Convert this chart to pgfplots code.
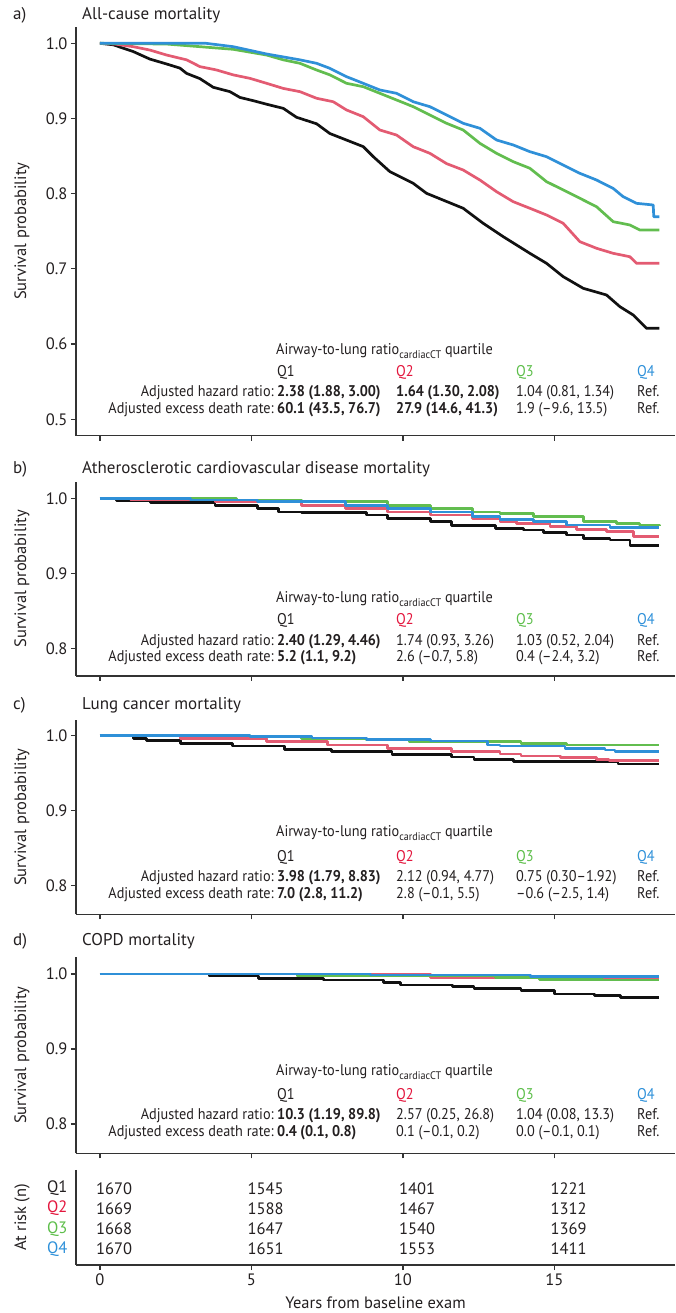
\documentclass[border=0pt]{standalone}
\usepackage{fontspec}
\setmainfont{PT Sans}
\newfontfamily\annfont[FakeStretch=0.92]{PT Sans}
\usepackage{pgfplots}
\pgfplotsset{compat=1.18}
\definecolor{lQ1}{HTML}{111111}
\definecolor{lQ2}{HTML}{E35B72}
\definecolor{lQ3}{HTML}{62BD4F}
\definecolor{lQ4}{HTML}{2F90D8}
\definecolor{tQ2}{HTML}{E3173E}
\definecolor{tQ3}{HTML}{5DBE4A}
\definecolor{tQ4}{HTML}{2E90D9}
\definecolor{axc}{HTML}{333333}
\definecolor{txt}{HTML}{231F20}
\newcommand\fs[1]{\fontsize{#1}{#1}\selectfont}

\pgfplotsset{
  kmbase/.style={
    scale only axis, width=599pt, xmin=-0.79, xmax=18.98,
    anchor=south west,
    axis x line*=bottom, axis y line*=left,
    axis line style={-, line width=1.2pt, axc},
    tick align=outside, major tick length=5pt,
    tick style={line width=1.2pt, axc},
    xtick={0,5,10,15},
    tick label style={font=\fs{16.5}, text=txt},
    /pgf/number format/assume math mode=true,
    every axis y label/.style={at={(axis description cs:-0.0902,0.5)}, anchor=center, rotate=90, font=\fs{16.5}, text=txt},
  },
  kmpanel/.style={kmbase, xticklabels={}, ylabel={Survival probability},
    yticklabel style={/pgf/number format/fixed, /pgf/number format/fixed zerofill, /pgf/number format/precision=1}},
  km/.style={line width=2.7pt, line join=round},
}

\newcommand\annhead[2]{%
  \node[anchor=base west, inner sep=0, font=\annfont\fs{15.5}, text=txt] at (276pt,{1313pt-#1pt}) {Airway-to-lung ratio\raisebox{-3.5pt}{\fs{11}cardiacCT} quartile};
  \node[anchor=base west, inner sep=0, font=\annfont\fs{15.5}, text=txt] at (277pt,{1313pt-#2pt}) {Q1};
  \node[anchor=base west, inner sep=0, font=\annfont\fs{15.5}, text=tQ2] at (396pt,{1313pt-#2pt}) {Q2};
  \node[anchor=base west, inner sep=0, font=\annfont\fs{15.5}, text=tQ3] at (516pt,{1313pt-#2pt}) {Q3};
  \node[anchor=base west, inner sep=0, font=\annfont\fs{15.5}, text=tQ4] at (637pt,{1313pt-#2pt}) {Q4};
}
\newcommand\annrow[6]{%
  \node[anchor=base east, inner sep=0, font=\annfont\fs{15.5}, text=txt] at (274pt,{1313pt-#1pt}) {#2};
  \node[anchor=base west, inner sep=0, font=\annfont\fs{15.5}, text=txt] at (277pt,{1313pt-#1pt}) {#3};
  \node[anchor=base west, inner sep=0, font=\annfont\fs{15.5}, text=txt] at (396pt,{1313pt-#1pt}) {#4};
  \node[anchor=base west, inner sep=0, font=\annfont\fs{15.5}, text=txt] at (516pt,{1313pt-#1pt}) {#5};
  \node[anchor=base west, inner sep=0, font=\annfont\fs{15.5}, text=txt] at (637pt,{1313pt-#1pt}) {#6};
}
\newcommand\ptitle[3]{%
  \node[anchor=base west, inner sep=0, font=\fs{17}, text=txt] at (13pt,{1313pt-#1pt}) {#2};
  \node[anchor=base west, inner sep=0, font=\fs{17}, text=txt] at (82pt,{1313pt-#1pt}) {#3};
}

\begin{document}
\begin{tikzpicture}
\useasboundingbox (0,0) rectangle (675pt,1313pt);

% ---------- panel a ----------
\begin{axis}[kmpanel, at={(76pt,877.3pt)}, height=409pt, ymin=0.4782, ymax=1.0221,
  ytick={0.5,0.6,0.7,0.8,0.9,1.0}]
\addplot[km, lQ1] coordinates {(0,1.000) (0.44,0.998) (1.10,0.989) (1.65,0.979) (2.20,0.9725) (2.64,0.967) (2.86,0.960) (3.30,0.953) (3.74,0.9415) (4.29,0.9357) (4.62,0.928) (5.06,0.9237) (5.50,0.919) (6.05,0.9135) (6.49,0.9016) (7.15,0.893) (7.59,0.880) (8.69,0.8626) (9.02,0.8493) (9.57,0.8293) (10.34,0.8138) (10.78,0.8005) (11.99,0.7806) (12.65,0.7606) (13.31,0.7429) (14.19,0.7207) (14.74,0.7074) (15.29,0.6897) (15.95,0.6742) (16.72,0.6653) (17.16,0.6498) (17.60,0.6387) (18.04,0.6210) (18.46,0.6210)};
\addplot[km, lQ2] coordinates {(0,1.0) (0.5,0.999) (1.10,0.9955) (1.65,0.991) (2.20,0.9844) (2.86,0.978) (3.30,0.969) (3.85,0.9645) (4.40,0.958) (4.95,0.9534) (5.50,0.9468) (6.05,0.940) (6.60,0.9357) (7.15,0.9269) (7.70,0.9223) (8.14,0.9113) (8.69,0.9024) (9.24,0.8847) (9.79,0.878) (10.34,0.8625) (10.89,0.8537) (11.44,0.840) (11.99,0.8315) (12.54,0.8182) (13.09,0.8027) (13.64,0.7894) (14.19,0.7806) (14.74,0.7717) (15.29,0.7606) (15.84,0.7362) (16.39,0.7274) (16.94,0.7207) (17.49,0.7162) (17.71,0.7074) (18.46,0.7074)};
\addplot[km, lQ3] coordinates {(0,1.0) (2.2,0.999) (3.3,0.9955) (4.4,0.992) (5.5,0.9844) (6.05,0.978) (6.6,0.9734) (7.15,0.9645) (7.59,0.958) (8.14,0.9468) (8.69,0.9423) (9.24,0.9335) (9.79,0.9246) (10.34,0.9157) (10.89,0.9047) (11.44,0.8936) (11.99,0.8847) (12.54,0.867) (13.09,0.8537) (13.64,0.8426) (14.19,0.8338) (14.74,0.816) (15.29,0.805) (15.84,0.7939) (16.39,0.7827) (16.94,0.7628) (17.49,0.7584) (17.82,0.7517) (18.46,0.7517)};
\addplot[km, lQ4] coordinates {(0,1.0) (3.5,1.0) (4.4,0.9955) (5.5,0.9858) (6.6,0.978) (7.15,0.9734) (7.59,0.9667) (8.14,0.9556) (8.69,0.9468) (9.24,0.9379) (9.79,0.9335) (10.34,0.9223) (10.89,0.9157) (11.44,0.9047) (11.99,0.8936) (12.54,0.887) (13.09,0.8714) (13.64,0.8648) (14.19,0.8559) (14.74,0.8492) (15.29,0.8381) (15.84,0.8271) (16.39,0.8182) (16.94,0.807) (17.27,0.796) (17.71,0.7872) (18.26,0.785) (18.28,0.7694) (18.46,0.7694)};
\end{axis}

% ---------- panel b ----------
\begin{axis}[kmpanel, at={(76pt,637pt)}, height=194.3pt, ymin=0.7633, ymax=1.0224,
  ytick={0.8,0.9,1.0}]
\addplot[km, lQ1, const plot] coordinates {(0,1.0) (0.54,0.9969) (1.68,0.9942) (3.8,0.991) (5.2,0.9867) (5.9,0.982) (6.66,0.981) (8.8,0.978) (9.5,0.9733) (10.9,0.969) (11.6,0.9644) (13.06,0.960) (13.97,0.958) (14.63,0.9544) (15.4,0.9513) (15.95,0.947) (16.83,0.9447) (17.49,0.937) (18.46,0.937)};
\addplot[km, lQ2, const plot] coordinates {(0,1.0) (1.0,0.999) (2.4,0.998) (3.8,0.9956) (6.66,0.991) (8.1,0.9867) (9.5,0.982) (10.9,0.978) (12.3,0.9733) (13.2,0.969) (13.75,0.967) (14.85,0.9624) (15.73,0.9589) (16.72,0.9558) (17.6,0.949) (18.46,0.949)};
\addplot[km, lQ3, const plot] coordinates {(0,1.0) (4.5,0.998) (6.66,0.9956) (9.5,0.991) (10.9,0.9867) (12.3,0.982) (13.2,0.980) (14.3,0.9757) (15.95,0.969) (17.05,0.967) (17.8,0.9647) (18.46,0.9640)};
\addplot[km, lQ4, const plot] coordinates {(0,1.0) (3.0,0.998) (5.2,0.9956) (8.1,0.991) (9.5,0.9867) (10.9,0.982) (12.3,0.9756) (13.2,0.9722) (14.3,0.969) (15.4,0.9647) (16.83,0.9616) (18.46,0.9616)};
\end{axis}

% ---------- panel c ----------
\begin{axis}[kmpanel, at={(76pt,398.7pt)}, height=194.3pt, ymin=0.7619, ymax=1.0209,
  ytick={0.8,0.9,1.0}]
\addplot[km, lQ1, const plot] coordinates {(0,1.0) (1.1,0.9965) (1.54,0.9934) (2.67,0.990) (4.38,0.9864) (6.09,0.982) (7.65,0.979) (9.64,0.9746) (11.6,0.9715) (12.35,0.9685) (13.64,0.9653) (17.1,0.9623) (18.46,0.9623)};
\addplot[km, lQ2, const plot] coordinates {(0,1.0) (2.67,0.9965) (5.5,0.992) (7.5,0.9877) (9.5,0.9833) (11.6,0.979) (13.2,0.9756) (13.9,0.973) (15.2,0.9712) (16.4,0.9685) (16.8,0.9667) (18.46,0.9667)};
\addplot[km, lQ3, const plot] coordinates {(0,1.0) (4.95,0.9987) (6.66,0.9965) (8.8,0.9943) (10.2,0.992) (13.9,0.990) (15.4,0.9876) (18.46,0.9876)};
\addplot[km, lQ4, const plot] coordinates {(0,1.0) (4.95,0.9987) (7.0,0.997) (8.8,0.995) (10.9,0.993) (12.8,0.9877) (13.2,0.9863) (15.35,0.9832) (16.67,0.981) (17.0,0.9787) (18.46,0.9787)};
\end{axis}

% ---------- panel d ----------
\begin{axis}[kmpanel, at={(76pt,159.7pt)}, height=196.3pt, ymin=0.7609, ymax=1.0227,
  ytick={0.8,0.9,1.0}]
\addplot[km, lQ1, const plot] coordinates {(0,1.0) (3.6,0.9973) (5.23,0.9942) (7.37,0.992) (9.36,0.9884) (9.93,0.9853) (11.64,0.9831) (12.35,0.9809) (13.9,0.9778) (15.0,0.9733) (16.33,0.9711) (17.18,0.9689) (18.46,0.9689)};
\addplot[km, lQ2, const plot] coordinates {(0,1.0) (10.9,0.9956) (16.6,0.993) (18.46,0.993)};
\addplot[km, lQ3, const plot] coordinates {(0,1.0) (6.5,0.9973) (13.06,0.9956) (14.5,0.993) (16.6,0.992) (18.46,0.992)};
\addplot[km, lQ4, const plot] coordinates {(0,1.0) (8.94,0.9987) (14.2,0.9964) (18.46,0.9964)};
\end{axis}

% ---------- at risk ----------
\begin{axis}[kmbase, at={(76pt,48pt)}, height=95pt, ymin=0.094, ymax=4.79, y dir=reverse,
  ytick={1,2,3,4}, yticklabels={Q1,\textcolor{tQ2}{Q2},\textcolor{tQ3}{Q3},\textcolor{tQ4}{Q4}},
  ytick style={draw=none},
  ylabel={At risk (n)},
  xlabel={Years from baseline exam},
  xlabel style={at={(axis description cs:0.5,0)}, anchor=base, yshift=-43pt, font=\fs{16.5}, text=txt},
]
\addplot[draw=none, nodes near coords, point meta=explicit symbolic,
  every node near coord/.style={anchor=west, xshift=-4pt, font=\fs{16.5}, text=txt, inner sep=0}]
  table[meta=n] {
x y n
0 1 1670
5 1 1545
10 1 1401
15 1 1221
0 2 1669
5 2 1588
10 2 1467
15 2 1312
0 3 1668
5 3 1647
10 3 1540
15 3 1369
0 4 1670
5 4 1651
10 4 1553
15 4 1411
};
\end{axis}

% ---------- titles ----------
\ptitle{20}{a)}{All-cause mortality}
\ptitle{474}{b)}{Atherosclerotic cardiovascular disease mortality}
\ptitle{710}{c)}{Lung cancer mortality}
\ptitle{946}{d)}{COPD mortality}

% ---------- annotations ----------
\annhead{355}{377}
\annrow{397}{Adjusted hazard ratio:}{\textbf{2.38 (1.88, 3.00)}}{\textbf{1.64 (1.30, 2.08)}}{1.04 (0.81, 1.34)}{Ref.}
\annrow{414}{Adjusted excess death rate:}{\textbf{60.1 (43.5, 76.7)}}{\textbf{27.9 (14.6, 41.3)}}{1.9 (–9.6, 13.5)}{Ref.}

\annhead{603}{625}
\annrow{646}{Adjusted hazard ratio:}{\textbf{2.40 (1.29, 4.46)}}{1.74 (0.93, 3.26)}{1.03 (0.52, 2.04)}{Ref.}
\annrow{662}{Adjusted excess death rate:}{\textbf{5.2 (1.1, 9.2)}}{2.6 (–0.7, 5.8)}{0.4 (–2.4, 3.2)}{Ref.}

\annhead{837}{862}
\annrow{882}{Adjusted hazard ratio:}{\textbf{3.98 (1.79, 8.83)}}{2.12 (0.94, 4.77)}{0.75 (0.30–1.92)}{Ref.}
\annrow{899}{Adjusted excess death rate:}{\textbf{7.0 (2.8, 11.2)}}{2.8 (–0.1, 5.5)}{–0.6 (–2.5, 1.4)}{Ref.}

\annhead{1076}{1100}
\annrow{1120}{Adjusted hazard ratio:}{\textbf{10.3 (1.19, 89.8)}}{2.57 (0.25, 26.8)}{1.04 (0.08, 13.3)}{Ref.}
\annrow{1137}{Adjusted excess death rate:}{\textbf{0.4 (0.1, 0.8)}}{0.1 (–0.1, 0.2)}{0.0 (–0.1, 0.1)}{Ref.}
\end{tikzpicture}
\end{document}
